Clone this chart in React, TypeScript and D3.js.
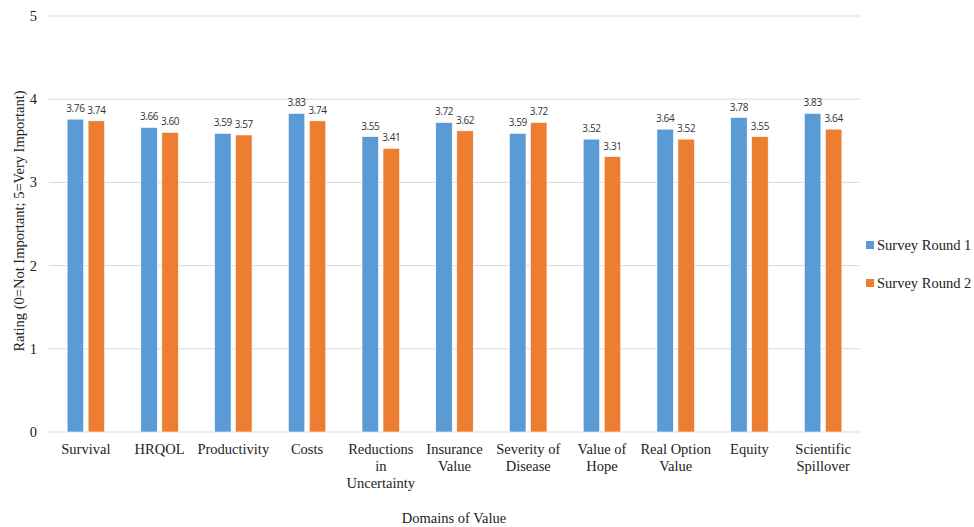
import React from "react";
import * as d3 from "d3";

const categories: string[][] = [
  ["Survival"],
  ["HRQOL"],
  ["Productivity"],
  ["Costs"],
  ["Reductions", "in", "Uncertainty"],
  ["Insurance", "Value"],
  ["Severity of", "Disease"],
  ["Value of", "Hope"],
  ["Real Option", "Value"],
  ["Equity"],
  ["Scientific", "Spillover"],
];
const round1: number[] = [3.76, 3.66, 3.59, 3.83, 3.55, 3.72, 3.59, 3.52, 3.64, 3.78, 3.83];
const round2: number[] = [3.74, 3.6, 3.57, 3.74, 3.41, 3.62, 3.72, 3.31, 3.52, 3.55, 3.64];
const seriesNames: string[] = ["Survey Round 1", "Survey Round 2"];
const yTicks: number[] = [0, 1, 2, 3, 4, 5];

const W = 974;
const H = 527;
const colors = ["#5B9BD5", "#ED7D31"];

export default function App() {
  const left = 49, right = 860, top = 16, bottom = 432;
  const keys = categories.map((c) => c.join(" "));
  const x = d3.scaleBand<string>().domain(keys).range([left, right]);
  const y = d3.scaleLinear().domain([0, 5]).range([bottom, top]);
  const barW = 16.5;
  const gap = 4.5;
  const series = [round1, round2];
  const serif = "'Liberation Serif', 'Times New Roman', serif";

  return (
    <svg width={W} height={H} style={{ position: "absolute", left: 0, top: 0, background: "#fff" }}>
      {yTicks.map((t) => (
        <g key={t}>
          <line x1={left} x2={right} y1={y(t)} y2={y(t)} stroke="#D9D9D9" strokeWidth={1} />
          <text x={37} y={y(t)} dy="0.35em" textAnchor="end" fontFamily={serif} fontSize={14.5} fill="#222">
            {t}
          </text>
        </g>
      ))}
      {keys.map((k, i) => {
        const cx = (x(k) as number) + x.bandwidth() / 2;
        return (
          <g key={k}>
            {series.map((s, si) => {
              const bx = si === 0 ? cx - gap / 2 - barW : cx + gap / 2;
              return (
                <g key={si}>
                  <rect x={bx} y={y(s[i])} width={barW} height={y(0) - y(s[i])} fill={colors[si]} stroke="#fff" strokeWidth={0.6} />
                  <text x={bx + barW / 2} y={y(s[i]) - 7} textAnchor="middle" fontFamily="'Open Sans', sans-serif" fontSize={10} letterSpacing={-0.4} fill="#333">
                    {s[i].toFixed(2)}
                  </text>
                </g>
              );
            })}
            {categories[i].map((line, li) => (
              <text key={li} x={cx} y={454 + li * 17} textAnchor="middle" fontFamily={serif} fontSize={14.5} fill="#222">
                {line}
              </text>
            ))}
          </g>
        );
      })}
      <text x={454} y={523} textAnchor="middle" fontFamily={serif} fontSize={14.5} fill="#222">
        Domains of Value
      </text>
      <text transform={`translate(19,221) rotate(-90)`} textAnchor="middle" dy="0.35em" fontFamily={serif} fontSize={14.5} fill="#222">
        Rating (0=Not Important; 5=Very Important)
      </text>
      {seriesNames.map((n, i) => (
        <g key={n}>
          <rect x={866} y={(i === 0 ? 245 : 283) - 4} width={8} height={8} fill={colors[i]} />
          <text x={877} y={i === 0 ? 245 : 283} dy="0.35em" fontFamily={serif} fontSize={14.5} fill="#222">
            {n}
          </text>
        </g>
      ))}
    </svg>
  );
}
